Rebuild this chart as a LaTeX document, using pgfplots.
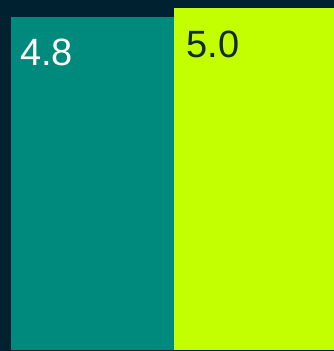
\documentclass[border=0pt]{standalone}
\usepackage{pgfplots}
\pgfplotsset{compat=1.18}
\usepackage{fontspec}
\setmainfont{Liberation Sans}
\definecolor{bg}{HTML}{00212F}
\definecolor{tealbar}{HTML}{008A7E}
\definecolor{limebar}{HTML}{C3FF00}
\definecolor{darktxt}{HTML}{0F2A33}
\begin{document}
\begin{tikzpicture}
\fill[bg] (0,0) rectangle (334bp,351bp);
\begin{axis}[
  at={(11bp,1bp)}, anchor=south west,
  scale only axis, width=323bp, height=350bp,
  xmin=-0.5, xmax=1.5, ymin=-2.6, ymax=5.18,
  axis lines=none, ticks=none,
  clip=false,
]
\addplot[fill=tealbar, draw=none] coordinates {(-0.5,-2.6) (-0.5,4.8) (0.52,4.8) (0.52,-2.6)} -- cycle;
\addplot[fill=limebar, draw=none] coordinates {(0.509,-2.6) (0.509,5.0) (1.5,5.0) (1.5,-2.6)} -- cycle;
\node[anchor=base west, inner sep=0pt, text=white, font=\fontsize{38bp}{42bp}\selectfont] at ([xshift=9bp,yshift=-48bp]axis cs:-0.5,4.8) {4.8};
\node[anchor=base west, inner sep=0pt, text=darktxt, font=\fontsize{38bp}{42bp}\selectfont] at ([xshift=14bp,yshift=-49bp]axis cs:0.5,5.0) {5.0};
\end{axis}
\end{tikzpicture}
\end{document}
